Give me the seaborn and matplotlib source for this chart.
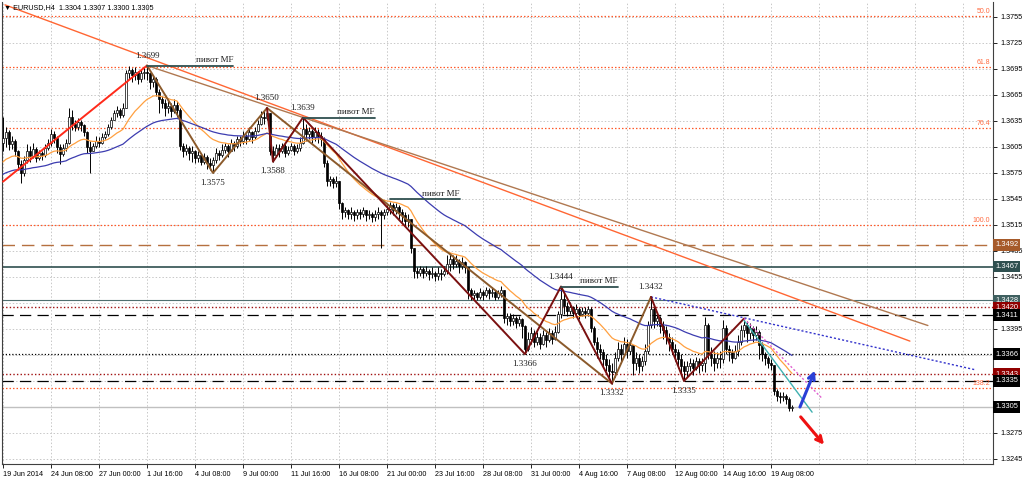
import matplotlib
matplotlib.use("Agg")
import matplotlib.pyplot as plt
import matplotlib.transforms as mtransforms
import numpy as np
import pandas as pd
import seaborn as sns

# EURUSD H4 bars, prices in pips above 1.3000
first_open = 610
close_pips = [
    615, 622, 608, 612, 600, 585, 575,
    590, 600, 595, 603, 592, 598, 596, 604, 610, 620, 615, 605, 597, 604, 610,
    640, 632, 628, 634, 630, 622,
    605, 600,
    606, 612, 610, 616, 620, 628, 636,
    644, 648, 642, 650,
    690, 694, 688, 692, 684, 690, 692, 690,
    680, 684, 668, 660, 656,
    650, 652, 646, 654, 648,
    606, 600, 604, 598, 600, 592, 596, 588, 594, 586, 584,
    590, 598, 596, 602, 606, 600, 610, 606, 614,
    612, 618, 614, 622, 616, 624, 632, 640, 638, 644,
    600, 596, 604, 600, 606, 598, 602, 606, 600, 604, 610,
    626, 620, 624, 616, 622, 618, 614,
    586, 566, 568, 564, 566,
    540, 530, 532, 528, 530, 526, 530, 528, 532, 526, 528, 524, 528, 530, 526, 530, 534, 538, 532, 536,
    530, 526, 520, 522, 488,
    462, 460, 464, 460, 462, 458, 460, 456, 460, 458, 462, 470,
    476, 470, 474, 468, 472, 466,
    440, 434, 436, 432, 438, 434, 440, 436, 438, 432, 436, 440,
    408,
    410, 404, 408, 402, 406, 398,
    372,
    384, 390, 380, 386, 378, 388, 382, 390, 384, 392,
    412, 430,
    422, 416, 420, 414, 418, 412, 416, 414, 418,
    396, 380, 372, 368, 360, 354, 346, 345,
    362, 372, 366, 378, 370, 376,
    356, 362, 352, 358, 370,
    400, 418,
    404, 408, 398, 394, 386,
    380, 372, 368, 360, 352, 346,
    352, 356, 350, 358, 354, 356,
    400,
    366, 362, 356, 362,
    360,
    396, 372,
    368, 362, 370, 380,
    394, 400, 390, 396, 388, 392,
    376, 366, 362, 356, 354,
    324,
    318, 316, 318, 314,
    304, 305,
]
high_pips = [
    640, 628, 625, 618, 614, 602, 590,
    595, 608, 606, 610, 605, 602, 600, 608, 614, 626, 624, 618, 608, 608, 614,
    650, 648, 636, 638, 636, 632,
    624, 612,
    610, 618, 616, 621, 624, 632, 640,
    648, 652, 650, 656,
    694, 698, 696, 697, 693, 695, 697, 699,
    690, 688, 686, 672, 664,
    660, 658, 656, 660, 658,
    650, 610, 608, 606, 606, 602, 600, 598, 598, 596, 592,
    594, 604, 602, 608, 610, 608, 614, 612, 618,
    618, 624, 620, 628, 624, 628, 636, 646, 646, 650,
    644, 606, 608, 608, 610, 608, 606, 610, 608, 608, 616,
    639, 632, 628, 626, 628, 626, 622,
    616, 590, 572, 570, 572,
    566, 542, 536, 534, 536, 532, 534, 534, 536, 532, 532, 530, 532, 536, 532, 534, 538, 542, 540, 540,
    538, 534, 530, 528, 522,
    470, 466, 468, 466, 468, 464, 466, 462, 466, 464, 468, 480,
    483, 480, 480, 476, 478, 474,
    466, 442, 440, 438, 442, 440, 444, 442, 444, 440, 440, 445,
    440,
    414, 414, 412, 410, 410, 408,
    400,
    392, 397, 394, 392, 390, 394, 392, 396, 394, 398,
    416, 444,
    436, 426, 426, 422, 424, 420, 420, 420, 422,
    420, 398, 386, 378, 372, 366, 360, 356,
    368, 380, 378, 386, 384, 382,
    374, 368, 366, 364, 378,
    404, 432,
    420, 414, 410, 404, 398,
    390, 386, 378, 372, 366, 358,
    358, 362, 360, 363, 362, 362,
    409,
    402, 374, 370, 368,
    370,
    405, 400,
    376, 372, 376, 388,
    400, 407, 404, 402, 398, 398,
    394, 380, 368, 364, 360,
    354,
    326, 322, 322, 320,
    316, 307,
]
low_pips = [
    600, 605, 602, 603, 595, 578, 563,
    572, 586, 588, 592, 588, 590, 590, 594, 602, 606, 610, 598, 585, 595, 600,
    608, 625, 624, 625, 624, 618,
    598, 575,
    600, 604, 605, 608, 614, 618, 626,
    636, 640, 638, 640,
    650, 684, 680, 682, 678, 680, 684, 682,
    672, 674, 664, 644, 650,
    641, 644, 640, 644, 640,
    602, 594, 596, 590, 588, 586, 588, 584, 585, 580, 578,
    575, 586, 590, 594, 598, 594, 600, 600, 604,
    606, 608, 608, 612, 610, 614, 622, 630, 632, 636,
    596, 588, 594, 594, 598, 594, 596, 600, 596, 598, 600,
    608, 612, 614, 610, 612, 610, 606,
    582, 560, 560, 558, 559,
    534, 522, 524, 522, 522, 520, 522, 522, 524, 520, 522, 518, 520, 522, 488, 522, 526, 528, 526, 528,
    522, 518, 514, 513, 483,
    454, 454, 456, 454, 456, 452, 454, 450, 452, 452, 456, 458,
    462, 464, 466, 460, 464, 460,
    430, 428, 430, 428, 430, 428, 432, 430, 432, 428, 430, 432,
    402,
    400, 398, 400, 396, 398, 385,
    366,
    370, 378, 374, 376, 372, 376, 374, 380, 378, 382,
    390, 408,
    412, 410, 412, 408, 410, 406, 410, 408, 410,
    392, 376, 362, 360, 352, 346, 340, 332,
    340, 358, 356, 364, 362, 366,
    342, 348, 344, 346, 354,
    366, 396,
    396, 398, 390, 384, 378,
    370, 366, 358, 350, 344, 335,
    340, 346, 342, 348, 344, 346,
    345,
    360, 352, 346, 350,
    350,
    356, 366,
    358, 356, 360, 364,
    376, 386, 380, 384, 380, 382,
    360, 358, 354, 350, 348,
    319,
    312, 310, 312, 308,
    300, 300,
]

date_labels = ["19 Jun 2014", "24 Jun 08:00", "27 Jun 00:00", "1 Jul 16:00", "4 Jul 08:00",
               "9 Jul 00:00", "11 Jul 16:00", "16 Jul 08:00", "21 Jul 00:00", "23 Jul 16:00",
               "28 Jul 08:00", "31 Jul 00:00", "4 Aug 16:00", "7 Aug 08:00", "12 Aug 00:00",
               "14 Aug 16:00", "19 Aug 08:00"]
price_ticks = [1.3245, 1.3275, 1.3305, 1.3335, 1.3365, 1.3395, 1.3425, 1.3455, 1.3485,
               1.3515, 1.3545, 1.3575, 1.3605, 1.3635, 1.3665, 1.3695, 1.3725, 1.3755]
# tick labels that sit fully under a price tag in the terminal
hidden_ticks = [1.3305, 1.3335, 1.3365, 1.3425]

# horizontal levels with coloured price tags on the right
level_prices = [1.3492, 1.3467, 1.3428, 1.3420, 1.3411, 1.3366, 1.3343, 1.3335, 1.3305]
level_styles = [("#b5703f", (0, (9, 5)), 1.0, "#a65a2a"),
                ("#2f4f4f", "-", 1.2, "#2f4f4f"),
                ("#4f6f6f", "-", 0.8, "#3f6060"),
                ("#a01010", (0, (1, 1.6)), 1.0, "#900000"),
                ("#000000", (0, (9, 5)), 0.9, "#000000"),
                ("#000000", (0, (1, 1.6)), 0.9, "#000000"),
                ("#a01010", (0, (1, 1.6)), 1.0, "#900000"),
                ("#000000", (0, (9, 5)), 0.9, "#000000"),
                ("#c0c0c0", "-", 1.0, "#000000")]

fib_labels = ["50.0", "61.8", "76.4", "100.0", "138.2"]
fib_prices = [1.3756, 1.3697, 1.3627, 1.3515, 1.3327]

# zigzag pivots (bar index, price)
zz_brown = [(48, 1.3699), (70, 1.3575), (88, 1.3650), (203, 1.3332), (216, 1.3432)]
zz_maroon_a = [(88, 1.3650), (90, 1.3588), (100, 1.3639), (174, 1.3366), (186, 1.3444), (203, 1.3332)]
zz_maroon_b = [(216, 1.3432), (227, 1.3335), (247, 1.3407)]
zz_labels = [(48, 1.3699, "1.3699", 1), (70, 1.3575, "1.3575", -1), (88, 1.3650, "1.3650", 1),
             (90, 1.3588, "1.3588", -1), (100, 1.3639, "1.3639", 1), (174, 1.3366, "1.3366", -1),
             (186, 1.3444, "1.3444", 1), (203, 1.3332, "1.3332", -1), (216, 1.3432, "1.3432", 1),
             (227, 1.3335, "1.3335", -1)]

# "пивот MF" marks: start bar, end bar, price
pivot_mf = [(48, 76.7, 1.3699), (100, 124, 1.3639), (129, 152.3, 1.3545), (186, 205, 1.3444)]

trend_red = [(0, 48), (1.3565, 1.3699)]
trend_orange = [(0.67, 302.3), (1.3769, 1.3381)]
trend_brown = [(48, 308.3), (1.3699, 1.3399)]
trend_blue = [(216, 324), (1.3432, 1.3348)]
trend_teal = [(247, 269.7), (1.3405, 1.3299)]
trend_pink = [(247, 273), (1.3407, 1.3315)]
arrow_up = [(265.3, 1.3302), (271, 1.3350)]
arrow_down = [(265.3, 1.3296), (274.3, 1.3259)]

ma_fast_seed, ma_slow_seed = 1.3585, 1.3572

assert len(close_pips) == len(high_pips) == len(low_pips)

df = pd.DataFrame({
    "close": 1.3 + np.array(close_pips) / 10000,
    "high": 1.3 + np.array(high_pips) / 10000,
    "low": 1.3 + np.array(low_pips) / 10000,
})
df["open"] = df["close"].shift(1).fillna(1.3 + first_open / 10000)
df["bar"] = np.arange(len(df))


def ema(values, period, seed):
    a = 2 / (period + 1)
    out, prev = [], seed
    for v in values:
        prev = prev + a * (v - prev)
        out.append(prev)
    return out


df["ma_fast"] = ema(df["close"], 21, ma_fast_seed)
df["ma_slow"] = ema(df["close"], 55, ma_slow_seed)

sns.set_theme(style="white")
plt.rcParams["font.family"] = ["Liberation Sans", "DejaVu Sans"]

fig = plt.figure(figsize=(10.24, 4.82), dpi=100)
ax = fig.add_axes([2 / 1024, 18 / 482, 991 / 1024, 462 / 482])
ax.set_xlim(-0.33, 330)
ax.set_ylim(1.32392, 1.37723)

# grid
for t in range(0, 330, 16):
    ax.axvline(t, color="#c8c8c8", lw=0.7, ls=(0, (1.5, 2)), zorder=0)
for p in price_ticks:
    ax.axhline(p, color="#c8c8c8", lw=0.7, ls=(0, (1.5, 2)), zorder=0)

# fib levels
for lab, p in zip(fib_labels, fib_prices):
    ax.axhline(p, color="#ff5a2a", lw=0.9, ls=(0, (1.2, 1.6)), zorder=1)
    ax.text(329, p + 0.00012, lab, color="#ff6a40", fontsize=5, ha="right", va="bottom")

# horizontal levels
for p, (col, ls, lw, _) in zip(level_prices, level_styles):
    ax.axhline(p, color=col, ls=ls, lw=lw, zorder=1)

# trend lines
ax.plot(*trend_orange, color="#ff6633", lw=1.0, zorder=2)
ax.plot(*trend_brown, color="#b07850", lw=1.0, zorder=2)
ax.plot(*trend_blue, color="#3333cc", lw=1.0, ls=(0, (1.5, 1.5)), zorder=2)

# candles
up = df["close"] >= df["open"]
wick_lo = df[["low", "open", "close"]].min(axis=1)
wick_hi = df[["high", "open", "close"]].max(axis=1)
ax.vlines(df["bar"], wick_lo, wick_hi, color="black", lw=0.7, zorder=3)
body_h = (df["close"] - df["open"]).abs().clip(lower=0.00006)
body_b = df[["open", "close"]].min(axis=1)
ax.bar(df["bar"][up], body_h[up], bottom=body_b[up], width=0.62, color="white",
       edgecolor="black", lw=0.5, zorder=4)
ax.bar(df["bar"][~up], body_h[~up], bottom=body_b[~up], width=0.62, color="black",
       edgecolor="black", lw=0.5, zorder=4)

# moving averages
sns.lineplot(x=df["bar"], y=df["ma_fast"], ax=ax, color="#ffa040", lw=0.9, zorder=5)
sns.lineplot(x=df["bar"], y=df["ma_slow"], ax=ax, color="#3c3cb0", lw=0.9, zorder=5)

# zigzags
ax.plot(*trend_red, color="#ff2a1a", lw=1.4, zorder=6)
for pts, col in [(zz_brown, "#8b5a2b"), (zz_maroon_a, "#7a1010"), (zz_maroon_b, "#7a1010")]:
    xs, ys = zip(*pts)
    ax.plot(xs, ys, color=col, lw=1.4, zorder=6)
ax.plot(*trend_teal, color="#40b0b0", lw=1.0, zorder=6)
ax.plot(*trend_pink, color="#e060d0", lw=1.0, ls=(0, (1.5, 1.5)), zorder=6)

for b, p, txt, side in zz_labels:
    ax.annotate(txt, (b, p), xytext=(0, 7 * side), textcoords="offset points",
                ha="center", va="center", fontsize=6.5, family="Liberation Serif",
                color="#202020", zorder=7)

for b0, b1, p in pivot_mf:
    ax.plot([b0, b1], [p, p], color="#2f4f4f", lw=1.3, zorder=6)
    ax.annotate("пивот MF", (b1, p), xytext=(0, 1), textcoords="offset points",
                ha="right", va="bottom", fontsize=6.5, family="Liberation Serif",
                color="#202020", zorder=7)

# arrows
ax.annotate("", xy=arrow_up[1], xytext=arrow_up[0],
            arrowprops=dict(arrowstyle="->", color="#2a3fd6", lw=2.2, mutation_scale=11), zorder=8)
ax.annotate("", xy=arrow_down[1], xytext=arrow_down[0],
            arrowprops=dict(arrowstyle="->", color="#ee1111", lw=2.2, mutation_scale=11), zorder=8)

# axes
ax.yaxis.tick_right()
ax.set_yticks(price_ticks)
ax.set_yticklabels(["" if p in hidden_ticks else f"{p:.4f}" for p in price_ticks])
ax.set_xticks(range(0, 16 * len(date_labels), 16))
ax.set_xticklabels(date_labels, ha="left")
ax.tick_params(axis="both", labelsize=5.2, colors="black", length=3, width=0.6, pad=2)
ax.tick_params(axis="y", right=True, left=False)
ax.tick_params(axis="x", bottom=True)
ax.set_xlabel("")
ax.set_ylabel("")
for side in ["left", "right", "bottom"]:
    ax.spines[side].set_color("#404040")
    ax.spines[side].set_linewidth(0.8)
ax.spines["top"].set_visible(False)

trans = mtransforms.blended_transform_factory(ax.transAxes, ax.transData)
for p, (_, _, _, tag) in zip(level_prices, level_styles):
    ax.text(1.002, p, f"{p:.4f}", transform=trans, ha="left", va="center", fontsize=5.4,
            color="white", clip_on=False, zorder=10,
            bbox=dict(boxstyle="square,pad=0.3", fc=tag, ec="none"))

ax.text(0.002, 0.995, "\u25bc EURUSD,H4  1.3304 1.3307 1.3300 1.3305", transform=ax.transAxes,
        ha="left", va="top", fontsize=5.2, color="black", zorder=10)

fig.savefig("out.png", dpi=100, facecolor="white")
